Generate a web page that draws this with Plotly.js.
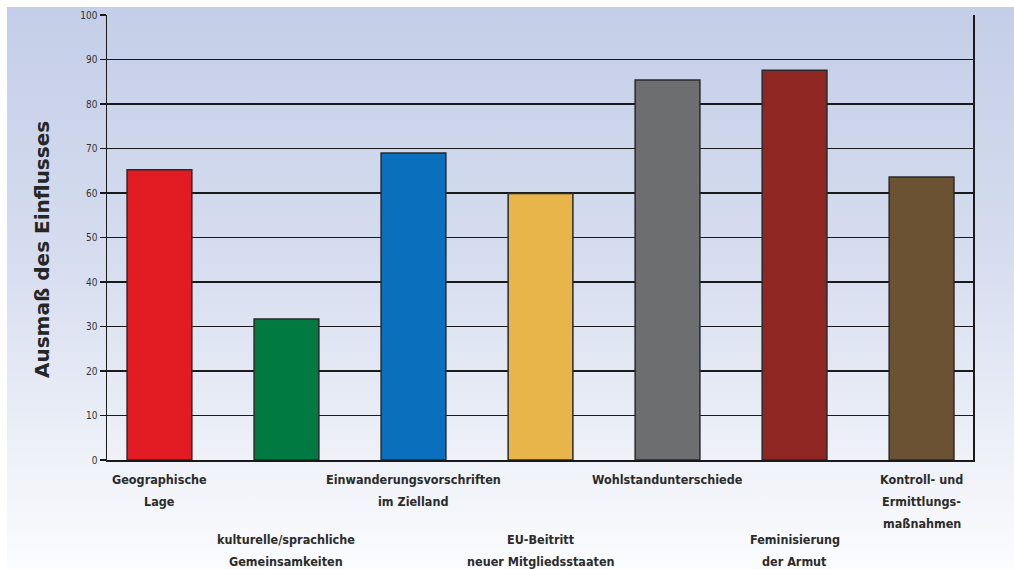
<!DOCTYPE html>
<html>
<head>
<meta charset="utf-8">
<script src="https://cdn.plot.ly/plotly-3.0.1.min.js"></script>
<style>
  html, body { margin: 0; padding: 0; background: #ffffff; }
  #wrap { position: absolute; left: 0; top: 0; width: 1014px; height: 569px; background: #ffffff; }
  #bg { position: absolute; left: 7px; top: 7px; width: 1007px; height: 562px;
        background: linear-gradient(to bottom, #c4cee8 0%, #d6ddef 45%, #eef1f8 80%, #fbfcfe 100%); }
  #chart { position: absolute; left: 0; top: 0; width: 1014px; height: 569px; }
</style>
</head>
<body>
<div id="wrap"><div id="bg"></div><div id="chart"></div></div>
<script>
const categories = [
  ["Geographische", "Lage"],
  ["kulturelle/sprachliche", "Gemeinsamkeiten"],
  ["Einwanderungsvorschriften", "im Zielland"],
  ["EU-Beitritt", "neuer Mitgliedsstaaten"],
  ["Wohlstandunterschiede"],
  ["Feminisierung", "der Armut"],
  ["Kontroll- und", "Ermittlungs-", "maßnahmen"]
];
const values = [65.2, 31.7, 69.0, 59.9, 85.4, 87.6, 63.6];
const barColors = ["#e31b23", "#007a40", "#0a6fbd", "#e8b54a", "#6d6e70", "#8f2622", "#6b5232"];
const yTitle = "Ausmaß des Einflusses";

const xs = categories.map((c, i) => i);

const trace = {
  type: "bar",
  x: xs,
  y: values,
  width: 0.51,
  marker: { color: barColors, line: { color: "#2a2a2a", width: 1.5 } },
  hoverinfo: "skip"
};

const plotH = 445; // pixel height of plot area
const annotations = [];
const labelFont = { family: "DejaVu Sans Condensed, Liberation Sans Narrow, sans-serif", size: 12.5, color: "#2b2b2b", weight: "bold" };
categories.forEach((lines, i) => {
  const firstY = (i % 2 === 0) ? 479 : 539;
  lines.forEach((ln, k) => {
    const py = firstY + k * 22;
    annotations.push({
      xref: "x", yref: "paper",
      x: i, y: (460 - py) / plotH,
      xanchor: "center", yanchor: "middle",
      text: ln, showarrow: false,
      font: labelFont
    });
  });
});
annotations.push({
  xref: "paper", yref: "paper",
  x: (42 - 107) / 866, y: (460 - 250) / plotH,
  xanchor: "center", yanchor: "middle",
  textangle: -90,
  text: yTitle, showarrow: false,
  font: { family: "DejaVu Sans, sans-serif", size: 20, color: "#262626", weight: "bold" }
});

const layout = {
  width: 1014, height: 569,
  margin: { l: 107, r: 41, t: 15, b: 109 },
  paper_bgcolor: "rgba(0,0,0,0)",
  plot_bgcolor: "rgba(0,0,0,0)",
  showlegend: false,
  xaxis: {
    range: [-0.413, 6.405],
    showticklabels: false,
    ticks: "",
    showgrid: false,
    zeroline: false,
    showline: true, linecolor: "#1a1a1a", linewidth: 2,
    fixedrange: true
  },
  yaxis: {
    range: [0, 100],
    dtick: 10,
    tick0: 0,
    showgrid: true, gridcolor: "#1a1a1a", gridwidth: 1.5,
    zeroline: false,
    showline: true, linecolor: "#1a1a1a", linewidth: 1.5, mirror: true,
    ticks: "outside", ticklen: 6, tickcolor: "#1a1a1a", tickwidth: 1.5,
    tickfont: { family: "DejaVu Sans Condensed, sans-serif", size: 10, color: "#333333" },
    fixedrange: true
  },
  annotations: annotations
};

Plotly.newPlot("chart", [trace], layout, { displayModeBar: false, staticPlot: true });
</script>
</body>
</html>
